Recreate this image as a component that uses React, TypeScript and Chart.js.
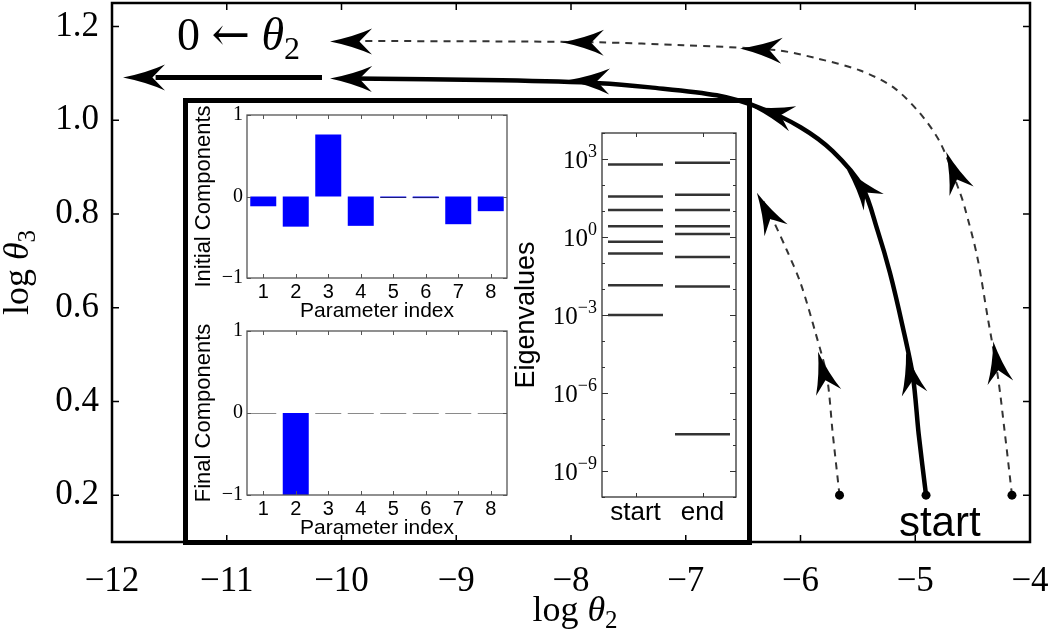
import React, { useEffect, useRef } from "react";
import { Chart, registerables } from "chart.js";
Chart.register(...registerables);

const SERIF = "'Liberation Serif', 'DejaVu Serif', serif";
const SANS = "'Liberation Sans', Arial, sans-serif";

// ---------------- main panel data ----------------
const mainXTicks = [-12, -11, -10, -9, -8, -7, -6, -5, -4];
const mainYTicks = [0.2, 0.4, 0.6, 0.8, 1.0, 1.2];

// thick solid geodesic (start -> end)
const solidX = [-4.906, -4.97, -5.02, -5.11, -5.22, -5.33, -5.46, -5.72, -6.0, -6.35, -6.73, -7.31, -7.75, -8.6, -9.9];
const solidY = [0.2, 0.33, 0.453, 0.56, 0.674, 0.766, 0.857, 0.934, 0.985, 1.026, 1.053, 1.07, 1.079, 1.085, 1.089];
const solidArrowX = [-5.08, -5.595, -6.42, -8.03, -10.1];
const solidArrowY = [0.504, 0.894, 1.028, 1.085, 1.089];

// left dashed geodesic
const dashLeftX = [-5.66, -5.72, -5.77, -5.87, -6.0, -6.12, -6.24, -6.33];
const dashLeftY = [0.2, 0.334, 0.453, 0.547, 0.653, 0.723, 0.787, 0.83];
const dashLeftArrowX = [-5.847, -6.38];
const dashLeftArrowY = [0.506, 0.845];

// right dashed geodesic
const dashRightX = [-4.157, -4.22, -4.28, -4.37, -4.46, -4.57, -4.61, -4.78, -4.96, -5.19, -5.48, -5.86, -6.2, -7.02, -7.75, -8.6, -9.9];
const dashRightY = [0.2, 0.334, 0.453, 0.581, 0.709, 0.815, 0.845, 0.951, 1.015, 1.07, 1.106, 1.132, 1.149, 1.16, 1.166, 1.168, 1.169];
const dashRightArrowX = [-4.32, -4.73, -6.527, -8.08, -10.1];
const dashRightArrowY = [0.528, 0.932, 1.153, 1.166, 1.168];

// "0 <- theta2" escape arrow
const escapeX = [-10.17, -11.62];
const escapeY = [1.091, 1.091];
const escapeArrowX = [-11.904];
const escapeArrowY = [1.091];

// ---------------- inset data ----------------
const parameterIndex = ["1", "2", "3", "4", "5", "6", "7", "8"];
const initialComponents = [-0.12, -0.37, 0.76, -0.36, -0.01, -0.02, -0.34, -0.18];
const finalComponents = [0, -1, 0, 0, 0, 0, 0, 0];

const eigenGroups = ["start", "end"];
const eigenStart = [620, 36, 11, 2.6, 0.66, 0.23, 0.014, 0.001];
const eigenEnd = [710, 42, 11, 2.6, 1.3, 0.17, 0.0126, 2.6e-8];
const eigenLabelExponents = [3, 0, -3, -6, -9];
const eigenDecades = [-10, -9, -8, -7, -6, -5, -4, -3, -2, -1, 0, 1, 2, 3, 4];

// ---------------- helpers ----------------
type Part = { t: string; font: string; dy?: number };
const toPts = (xs: number[], ys: number[]) => xs.map((x, i) => ({ x, y: ys[i] }));
const minus = (v: number) => (v < 0 ? "\u2212" + Math.abs(v) : String(v));

function drawRich(ctx: CanvasRenderingContext2D, parts: Part[], x: number, y: number, align: "left" | "center" | "right") {
  let total = 0;
  for (const p of parts) {
    ctx.font = p.font;
    total += ctx.measureText(p.t).width;
  }
  let cx = align === "center" ? x - total / 2 : align === "right" ? x - total : x;
  ctx.textAlign = "left";
  for (const p of parts) {
    ctx.font = p.font;
    ctx.fillText(p.t, cx, y + (p.dy || 0));
    cx += ctx.measureText(p.t).width;
  }
}

function drawHead(ctx: CanvasRenderingContext2D, tx: number, ty: number, dx: number, dy: number, L: number, W: number) {
  const n = Math.hypot(dx, dy) || 1;
  const ux = dx / n, uy = dy / n;
  const px = -uy, py = ux;
  ctx.beginPath();
  ctx.moveTo(tx, ty);
  ctx.quadraticCurveTo(tx - ux * L * 0.55 + px * W * 0.35, ty - uy * L * 0.55 + py * W * 0.35, tx - ux * L + px * W, ty - uy * L + py * W);
  ctx.lineTo(tx - ux * L * 0.7, ty - uy * L * 0.7);
  ctx.lineTo(tx - ux * L - px * W, ty - uy * L - py * W);
  ctx.quadraticCurveTo(tx - ux * L * 0.55 - px * W * 0.35, ty - uy * L * 0.55 - py * W * 0.35, tx, ty);
  ctx.closePath();
  ctx.fill();
}

function nearestDir(pp: { x: number; y: number }[], t: { x: number; y: number }) {
  let best = Infinity;
  let d: [number, number] = [1, 0];
  for (let i = 0; i < pp.length - 1; i++) {
    const a = pp[i], b = pp[i + 1];
    const vx = b.x - a.x, vy = b.y - a.y;
    const len2 = vx * vx + vy * vy || 1;
    let s = ((t.x - a.x) * vx + (t.y - a.y) * vy) / len2;
    s = Math.max(0, Math.min(1, s));
    const qx = a.x + s * vx, qy = a.y + s * vy;
    const dist = Math.hypot(t.x - qx, t.y - qy);
    if (dist < best) {
      best = dist;
      d = [vx, vy];
    }
  }
  return d;
}

const solidPts = toPts(solidX, solidY);
const dashLeftPts = toPts(dashLeftX, dashLeftY);
const dashRightPts = toPts(dashRightX, dashRightY);
const escapePts = toPts(escapeX, escapeY);

const mainPlugin = {
  id: "mainDecor",
  afterDatasetsDraw(chart: any) {
    const { ctx, scales } = chart;
    const x = scales.x, y = scales.y;
    const px = (p: { x: number; y: number }) => ({ x: x.getPixelForValue(p.x), y: y.getPixelForValue(p.y) });
    const heads = [
      { path: solidPts, tx: solidArrowX, ty: solidArrowY },
      { path: dashLeftPts, tx: dashLeftArrowX, ty: dashLeftArrowY },
      { path: dashRightPts, tx: dashRightArrowX, ty: dashRightArrowY },
      { path: escapePts, tx: escapeArrowX, ty: escapeArrowY },
    ];
    ctx.save();
    ctx.fillStyle = "#000";
    for (const h of heads) {
      const pp = h.path.map(px);
      h.tx.forEach((tx, i) => {
        const t = px({ x: tx, y: h.ty[i] });
        const d = nearestDir(pp, t);
        drawHead(ctx, t.x, t.y, d[0], d[1], 42, 13);
      });
    }
    ctx.restore();
  },
  afterDraw(chart: any) {
    const { ctx, chartArea: a, scales } = chart;
    const x = scales.x, y = scales.y;
    ctx.save();
    ctx.strokeStyle = "#000";
    ctx.lineWidth = 1.5;
    ctx.beginPath();
    x.ticks.forEach((_t: any, i: number) => {
      const p = x.getPixelForTick(i);
      ctx.moveTo(p, a.bottom);
      ctx.lineTo(p, a.bottom - 7);
      ctx.moveTo(p, a.top);
      ctx.lineTo(p, a.top + 7);
    });
    y.ticks.forEach((_t: any, i: number) => {
      const p = y.getPixelForTick(i);
      ctx.moveTo(a.left, p);
      ctx.lineTo(a.left + 7, p);
      ctx.moveTo(a.right, p);
      ctx.lineTo(a.right - 7, p);
    });
    ctx.stroke();
    ctx.lineWidth = 2.5;
    ctx.strokeRect(a.left, a.top, a.right - a.left, a.bottom - a.top);

    ctx.fillStyle = "#000";
    ctx.textBaseline = "alphabetic";
    drawRich(
      ctx,
      [
        { t: "log ", font: `36px ${SERIF}` },
        { t: "θ", font: `italic 36px ${SERIF}` },
        { t: "2", font: `25px ${SERIF}`, dy: 7 },
      ],
      (a.left + a.right) / 2 + 4,
      621,
      "center"
    );
    ctx.save();
    ctx.translate(28, (a.top + a.bottom) / 2);
    ctx.rotate(-Math.PI / 2);
    drawRich(
      ctx,
      [
        { t: "log ", font: `36px ${SERIF}` },
        { t: "θ", font: `italic 36px ${SERIF}` },
        { t: "3", font: `25px ${SERIF}`, dy: 7 },
      ],
      0,
      0,
      "center"
    );
    ctx.restore();

    drawRich(
      ctx,
      [
        { t: "0 ", font: `46px ${SERIF}` },
        { t: "←", font: `46px 'DejaVu Serif', serif` },
        { t: " ", font: `46px ${SERIF}` },
        { t: "θ", font: `italic 46px ${SERIF}` },
        { t: "2", font: `32px ${SERIF}`, dy: 9 },
      ],
      x.getPixelForValue(-11.434),
      y.getPixelForValue(1.149),
      "left"
    );
    ctx.font = `42px ${SANS}`;
    ctx.textAlign = "left";
    ctx.fillText("start", x.getPixelForValue(-5.142), y.getPixelForValue(0.113));
    ctx.restore();
  },
};

function barInsetPlugin(yTitle: string, zeroColor: string) {
  return {
    id: "barInset",
    afterDatasetsDraw(chart: any) {
      const { ctx } = chart;
      const meta = chart.getDatasetMeta(0);
      const vals = chart.data.datasets[0].data as number[];
      ctx.save();
      ctx.strokeStyle = zeroColor;
      ctx.lineWidth = 1.2;
      ctx.beginPath();
      meta.data.forEach((el: any, i: number) => {
        if (Math.abs(vals[i]) < 0.03) {
          const yy = Math.round(el.base) + 0.5;
          ctx.moveTo(el.x - el.width / 2, yy);
          ctx.lineTo(el.x + el.width / 2, yy);
        }
      });
      ctx.stroke();
      ctx.restore();
    },
    afterDraw(chart: any) {
      const { ctx, chartArea: a, scales } = chart;
      const x = scales.x, y = scales.y;
      ctx.save();
      ctx.strokeStyle = "#555";
      ctx.lineWidth = 1;
      ctx.beginPath();
      x.ticks.forEach((_t: any, i: number) => {
        const p = Math.round(x.getPixelForTick(i)) + 0.5;
        ctx.moveTo(p, a.bottom);
        ctx.lineTo(p, a.bottom - 4);
        ctx.moveTo(p, a.top);
        ctx.lineTo(p, a.top + 4);
      });
      y.ticks.forEach((_t: any, i: number) => {
        const p = Math.round(y.getPixelForTick(i)) + 0.5;
        ctx.moveTo(a.left, p);
        ctx.lineTo(a.left + 4, p);
        ctx.moveTo(a.right, p);
        ctx.lineTo(a.right - 4, p);
      });
      ctx.stroke();
      ctx.lineWidth = 1.3;
      ctx.strokeRect(a.left, a.top, a.right - a.left, a.bottom - a.top);
      ctx.fillStyle = "#000";
      ctx.font = `21px ${SANS}`;
      ctx.textAlign = "center";
      ctx.textBaseline = "middle";
      ctx.fillText("Parameter index", (a.left + a.right) / 2, a.bottom + 33);
      ctx.save();
      ctx.translate(a.left - 43, (a.top + a.bottom) / 2);
      ctx.rotate(-Math.PI / 2);
      ctx.font = `22px ${SANS}`;
      ctx.fillText(yTitle, 0, 0);
      ctx.restore();
      ctx.restore();
    },
  };
}

const eigenPlugin = {
  id: "eigenInset",
  afterDraw(chart: any) {
    const { ctx, chartArea: a, scales } = chart;
    const x = scales.x, y = scales.y;
    ctx.save();
    ctx.strokeStyle = "#333";
    ctx.lineWidth = 1;
    ctx.beginPath();
    x.ticks.forEach((_t: any, i: number) => {
      const p = Math.round(x.getPixelForTick(i)) + 0.5;
      ctx.moveTo(p, a.bottom);
      ctx.lineTo(p, a.bottom - 4);
      ctx.moveTo(p, a.top);
      ctx.lineTo(p, a.top + 4);
    });
    y.ticks.forEach((t: any, i: number) => {
      const p = Math.round(y.getPixelForTick(i)) + 0.5;
      const k = Math.round(Math.log10(t.value));
      const len = eigenLabelExponents.includes(k) ? 6 : 3;
      ctx.moveTo(a.left, p);
      ctx.lineTo(a.left + len, p);
      ctx.moveTo(a.right, p);
      ctx.lineTo(a.right - len, p);
    });
    ctx.stroke();
    ctx.lineWidth = 1.3;
    ctx.strokeRect(a.left, a.top, a.right - a.left, a.bottom - a.top);

    ctx.fillStyle = "#000";
    ctx.textBaseline = "alphabetic";
    eigenLabelExponents.forEach((k) => {
      const py = y.getPixelForValue(Math.pow(10, k));
      drawRich(
        ctx,
        [
          { t: "10", font: `25px ${SERIF}` },
          { t: minus(k), font: `18px ${SERIF}`, dy: -11 },
        ],
        a.left - 5,
        py + 9,
        "right"
      );
    });
    ctx.save();
    ctx.translate(a.left - 75, (a.top + a.bottom) / 2);
    ctx.rotate(-Math.PI / 2);
    ctx.font = `27px ${SANS}`;
    ctx.textAlign = "center";
    ctx.textBaseline = "middle";
    ctx.fillText("Eigenvalues", 0, 0);
    ctx.restore();
    ctx.restore();
  },
};

const zeroPad = (s: any) => {
  s.paddingTop = 0;
  s.paddingBottom = 0;
  s.paddingLeft = 0;
  s.paddingRight = 0;
};

export default function App() {
  const mainRef = useRef<HTMLCanvasElement>(null);
  const in1Ref = useRef<HTMLCanvasElement>(null);
  const in2Ref = useRef<HTMLCanvasElement>(null);
  const eigRef = useRef<HTMLCanvasElement>(null);

  useEffect(() => {
    const charts: Chart[] = [];
    const dotRadius = (ctx: any) => (ctx.dataIndex === 0 ? 4.5 : 0);

    charts.push(
      new Chart(mainRef.current as HTMLCanvasElement, {
        type: "line",
        data: {
          datasets: [
            {
              data: solidPts,
              borderColor: "#000",
              borderWidth: 4.5,
              tension: 0.3,
              pointRadius: dotRadius,
              pointBackgroundColor: "#000",
              pointBorderWidth: 0,
              fill: false,
            },
            {
              data: dashLeftPts,
              borderColor: "#333",
              borderWidth: 2,
              borderDash: [7, 6],
              tension: 0.3,
              pointRadius: dotRadius,
              pointBackgroundColor: "#000",
              pointBorderWidth: 0,
              fill: false,
            },
            {
              data: dashRightPts,
              borderColor: "#333",
              borderWidth: 2,
              borderDash: [7, 6],
              tension: 0.3,
              pointRadius: dotRadius,
              pointBackgroundColor: "#000",
              pointBorderWidth: 0,
              fill: false,
            },
            {
              data: escapePts,
              borderColor: "#000",
              borderWidth: 5,
              tension: 0,
              pointRadius: 0,
              fill: false,
            },
          ],
        },
        options: {
          responsive: false,
          animation: false,
          events: [],
          layout: { autoPadding: false, padding: { left: 0, top: 3, right: 20, bottom: 0 } },
          plugins: { legend: { display: false }, tooltip: { enabled: false } },
          scales: {
            x: {
              type: "linear",
              min: -12,
              max: -4,
              grid: { display: false, drawTicks: false },
              border: { display: false },
              afterBuildTicks: (s: any) => {
                s.ticks = mainXTicks.map((v) => ({ value: v }));
              },
              afterFit: (s: any) => {
                s.height = 89;
                zeroPad(s);
              },
              ticks: {
                color: "#000",
                font: { family: SERIF, size: 35 },
                padding: 19,
                maxRotation: 0,
                autoSkip: false,
                callback: (v: any) => minus(Number(v)),
              },
            },
            y: {
              type: "linear",
              min: 0.1,
              max: 1.25,
              grid: { display: false, drawTicks: false },
              border: { display: false },
              afterBuildTicks: (s: any) => {
                s.ticks = mainYTicks.map((v) => ({ value: v }));
              },
              afterFit: (s: any) => {
                s.width = 112;
                zeroPad(s);
              },
              ticks: {
                color: "#000",
                font: { family: SERIF, size: 35 },
                padding: 13,
                autoSkip: false,
                callback: (v: any) => Number(v).toFixed(1),
              },
            },
          },
        },
        plugins: [mainPlugin],
      } as any)
    );

    const barConfig = (vals: number[], yTitle: string, zeroColor: string, padTop: number, xHeight: number) =>
      ({
        type: "bar",
        data: {
          labels: parameterIndex,
          datasets: [
            {
              data: vals,
              backgroundColor: "#0000ff",
              borderWidth: 0,
              barPercentage: 0.8,
              categoryPercentage: 1,
            },
          ],
        },
        options: {
          responsive: false,
          animation: false,
          events: [],
          layout: { autoPadding: false, padding: { left: 0, top: padTop, right: 13, bottom: 0 } },
          plugins: { legend: { display: false }, tooltip: { enabled: false } },
          scales: {
            x: {
              type: "category",
              offset: true,
              grid: { display: false, drawTicks: false },
              border: { display: false },
              afterFit: (s: any) => {
                s.height = xHeight;
                zeroPad(s);
              },
              ticks: { color: "#000", font: { family: SANS, size: 20 }, padding: 2, maxRotation: 0, autoSkip: false },
            },
            y: {
              type: "linear",
              min: -1,
              max: 1,
              grid: { display: false, drawTicks: false },
              border: { display: false },
              afterBuildTicks: (s: any) => {
                s.ticks = [-1, 0, 1].map((v) => ({ value: v }));
              },
              afterFit: (s: any) => {
                s.width = 57;
                zeroPad(s);
              },
              ticks: { color: "#000", font: { family: SERIF, size: 20 }, padding: 4, callback: (v: any) => minus(Number(v)) },
            },
          },
        },
        plugins: [barInsetPlugin(yTitle, zeroColor)],
      } as any);

    charts.push(new Chart(in1Ref.current as HTMLCanvasElement, barConfig(initialComponents, "Initial Components", "#1a1a7a", 11, 46)));
    charts.push(new Chart(in2Ref.current as HTMLCanvasElement, barConfig(finalComponents, "Final Components", "#8a8a8a", 9, 49)));

    charts.push(
      new Chart(eigRef.current as HTMLCanvasElement, {
        type: "scatter",
        data: {
          datasets: [
            {
              data: eigenStart.map((v) => ({ x: 1, y: v })),
              pointStyle: "line",
              pointRadius: 27.5,
              pointBorderWidth: 2.5,
              pointBorderColor: "#333",
              showLine: false,
            },
            {
              data: eigenEnd.map((v) => ({ x: 2, y: v })),
              pointStyle: "line",
              pointRadius: 27.5,
              pointBorderWidth: 2.5,
              pointBorderColor: "#333",
              showLine: false,
            },
          ],
        },
        options: {
          responsive: false,
          animation: false,
          events: [],
          layout: { autoPadding: false, padding: { left: 0, top: 13, right: 29, bottom: 0 } },
          plugins: { legend: { display: false }, tooltip: { enabled: false } },
          scales: {
            x: {
              type: "linear",
              min: 0.5,
              max: 2.5,
              grid: { display: false, drawTicks: false },
              border: { display: false },
              afterBuildTicks: (s: any) => {
                s.ticks = [1, 2].map((v) => ({ value: v }));
              },
              afterFit: (s: any) => {
                s.height = 43;
                zeroPad(s);
              },
              ticks: {
                color: "#000",
                font: { family: SANS, size: 26 },
                padding: 0,
                maxRotation: 0,
                autoSkip: false,
                callback: (v: any) => eigenGroups[Number(v) - 1],
              },
            },
            y: {
              type: "logarithmic",
              min: 1e-10,
              max: 1e4,
              grid: { display: false, drawTicks: false },
              border: { display: false },
              afterBuildTicks: (s: any) => {
                s.ticks = eigenDecades.map((k) => ({ value: Math.pow(10, k) }));
              },
              afterFit: (s: any) => {
                s.width = 92;
                zeroPad(s);
              },
              ticks: { display: false },
            },
          },
        },
        plugins: [eigenPlugin],
      } as any)
    );

    return () => charts.forEach((c) => c.destroy());
  }, []);

  const abs = (left: number, top: number): React.CSSProperties => ({ position: "absolute", left, top, display: "block" });

  return (
    <div style={{ position: "fixed", left: 0, top: 0, width: 1050, height: 631, background: "#fff", overflow: "hidden" }}>
      <canvas ref={mainRef} width={1050} height={631} style={abs(0, 0)} />
      <div
        style={{
          position: "absolute",
          left: 183,
          top: 98,
          width: 569,
          height: 447,
          border: "5px solid #000",
          boxSizing: "border-box",
        }}
      />
      <canvas ref={in1Ref} width={330} height={220} style={abs(190, 104)} />
      <canvas ref={in2Ref} width={330} height={222} style={abs(190, 322)} />
      <canvas ref={eigRef} width={255} height={420} style={abs(510, 120)} />
    </div>
  );
}
